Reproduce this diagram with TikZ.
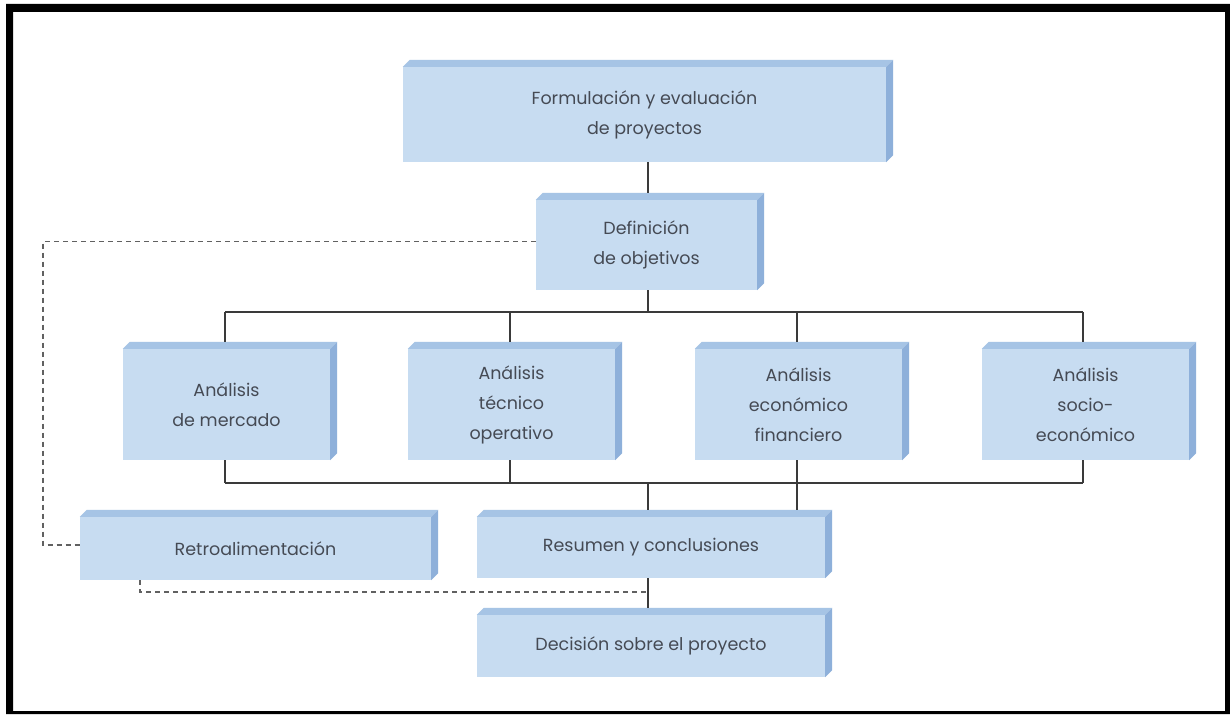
\documentclass[tikz,border=0pt]{standalone}
\usepackage{fontspec}
\setmainfont{Poppins}
\usetikzlibrary{calc}
\definecolor{faceblue}{HTML}{C7DCF1}
\definecolor{topblue}{HTML}{A6C4E5}
\definecolor{sideblue}{HTML}{8EB0DA}
\definecolor{inkgrey}{HTML}{454A54}
\definecolor{linegrey}{HTML}{3A3A3A}
\tikzset{
  slab/.style={rectangle, inner sep=0pt, align=center, text=inkgrey,
    font=\fontsize{17.5}{30}\selectfont},
  link/.style={draw=linegrey, line width=1.3pt},
  feedback/.style={draw=linegrey!80, line width=1.2pt, dash pattern=on 5pt off 4pt},
}
% three visible faces of a slab: front, top strip, right strip
\newcommand\slabfaces[1]{%
  \fill[faceblue] ($(#1.north west)+(0,7)$) rectangle ($(#1.south east)+(-7,0)$);
  \fill[topblue] ($(#1.north west)+(0,7)$) -- ($(#1.north west)+(7,0)$) -- (#1.north east) -- ($(#1.north east)+(-7,7)$) -- cycle;
  \fill[sideblue] ($(#1.north east)+(-7,7)$) -- (#1.north east) -- ($(#1.south east)+(0,-7)$) -- ($(#1.south east)+(-7,0)$) -- cycle;
}
\begin{document}
\begin{tikzpicture}[x=1pt,y=-1pt]
\useasboundingbox (0,0) rectangle (1230,714);
\fill[white] (0,0) rectangle (1230,714);
% black frame
\fill[black, even odd rule] (6,4) rectangle (1230,714) (13,12) rectangle (1225,711);

% slab outlines (placed first, faces painted next, texts on top)
\path
  (648,111)   node[slab, minimum width=490pt, minimum height=102pt] (top) {}
  (650,241.5) node[slab, minimum width=228pt, minimum height=97pt] (def) {}
  (230,401)   node[slab, minimum width=214pt, minimum height=118pt] (mer) {}
  (515,401)   node[slab, minimum width=214pt, minimum height=118pt] (tec) {}
  (802,401)   node[slab, minimum width=214pt, minimum height=118pt] (eco) {}
  (1089,401)  node[slab, minimum width=214pt, minimum height=118pt] (soc) {}
  (259,545)   node[slab, minimum width=358pt, minimum height=70pt] (ret) {}
  (654.5,544) node[slab, minimum width=355pt, minimum height=68pt] (res) {}
  (654.5,642.5) node[slab, minimum width=355pt, minimum height=69pt] (dec) {};

\foreach \n in {top,def,mer,tec,eco,soc,ret,res,dec}{\slabfaces{\n}}

% texts, centred on the front faces
\node[slab] at ($(top.center)+(-3.5,3.5)$) {Formulación y evaluación\\de proyectos};
\node[slab] at ($(def.center)+(-3.5,3.5)$) {Definición\\de objetivos};
\node[slab] at ($(mer.center)+(-3.5,3.5)$) {Análisis\\de mercado};
\node[slab] at ($(tec.center)+(-3.5,3.5)$) {Análisis\\técnico\\operativo};
\node[slab] at ($(eco.center)+(-3.5,3.5)$) {Análisis\\económico\\financiero};
\node[slab] at ($(soc.center)+(-3.5,3.5)$) {Análisis\\socio-\\económico};
\node[slab] at ($(ret.center)+(-3.5,3.5)$) {Retroalimentación};
\node[slab] at ($(res.center)+(-3.5,3.5)$) {Resumen y conclusiones};
\node[slab] at ($(dec.center)+(-3.5,3.5)$) {Decisión sobre el proyecto};

% bus levels
\coordinate (busA) at (0,312);
\coordinate (busB) at (0,483);
\coordinate (fbA) at (43,0);
\coordinate (fbB) at (0,592);

% solid connectors
\draw[link] ([xshift=-2pt]def.north) -- ([xshift=-2pt]def.north |- top.south);
\draw[link] ([xshift=-2pt]def.south) -- ([xshift=-2pt]def.south |- busA);
\draw[link] ([xshift=-5pt]mer.north |- busA) -- ([xshift=-6pt]soc.north |- busA);
\foreach \n/\s in {mer/-5pt,tec/-5pt,eco/-5pt,soc/-6pt}{
  \draw[link] ([xshift=\s]\n.north) -- ([xshift=\s]\n.north |- busA);
  \draw[link] ([xshift=\s]\n.south) -- ([xshift=\s]\n.south |- busB);
}
\draw[link] ([xshift=-5pt]mer.south |- busB) -- ([xshift=-6pt]soc.south |- busB);
\draw[link] ([xshift=-6.5pt]res.north) -- ([xshift=-6.5pt]res.north |- busB);
\draw[link] ([xshift=-5pt]eco.south |- res.north) -- ([xshift=-5pt]eco.south |- busB);
\draw[link] ([xshift=-6.5pt]res.south) -- ([xshift=-6.5pt]dec.north);

% feedback loops (dashed)
\draw[feedback] (def.west) -- (fbA |- def.west) -- (fbA |- ret.west) -- (ret.west);
\draw[feedback] ([xshift=-119pt]ret.south) -- ([xshift=-119pt]ret.south |- fbB) -- ([xshift=-6.5pt]res.south |- fbB);
\end{tikzpicture}
\end{document}
